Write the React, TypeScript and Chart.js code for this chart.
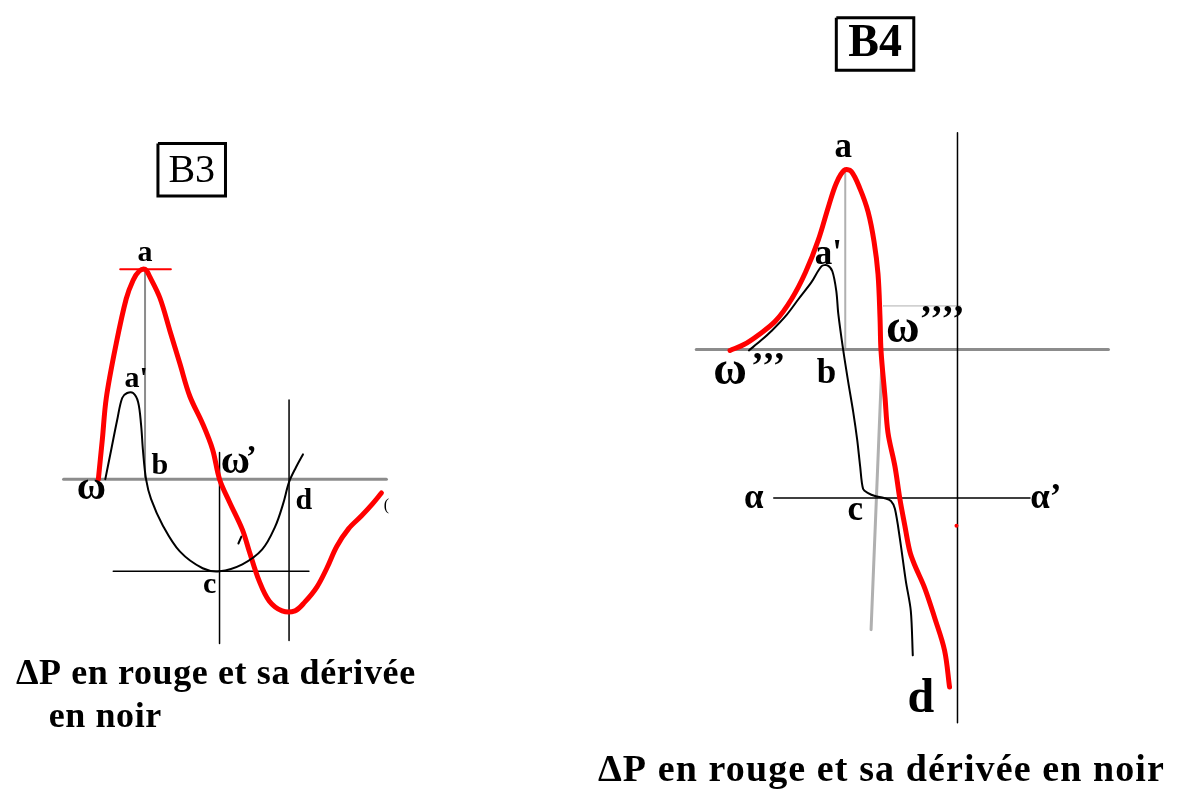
import React, { useEffect, useRef } from "react";
import { Chart, registerables } from "chart.js";

Chart.register(...registerables);

type P = [number, number];

// ---------- B3 panel ----------
const b3RedCurve: P[] = [
  [95, 480], [99, 440], [103, 398], [113, 343], [123, 298], [130, 279], [136, 270], [142, 268],
  [147, 276], [157, 297], [167, 330], [177, 363], [187, 396], [200, 424], [210, 450], [217, 480],
  [227, 503], [240, 531], [247, 553], [257, 583], [267, 603], [280, 613], [293, 613], [303, 604],
  [315, 589], [325, 570], [335, 548], [347, 530], [360, 517], [371, 505], [380, 494],
];
const b3BlackCurve: P[] = [
  [102, 480], [108, 450], [114, 420], [119, 398], [124, 393], [130, 393], [135, 402], [138, 425],
  [140, 452], [143, 480], [148, 500], [160, 527], [177, 553], [200, 570], [217, 573], [240, 566],
  [260, 551], [273, 528], [281, 505], [287, 483], [294, 468], [301, 455],
];
const b3Axis: P[] = [[60, 480], [385, 480]];
const b3PeakGuide: P[] = [[142, 270], [142, 480]];
const b3PeakCap: P[] = [[117, 268], [168, 268]];
const b3OmegaVertical: P[] = [[217, 453], [217, 646]];
const b3DVertical: P[] = [[287, 400], [287, 643]];
const b3CHorizontal: P[] = [[110, 573], [307, 573]];
const b3Tick: P[] = [[236, 545], [239, 538]];
const b3Box: P[] = [[155, 141], [223, 141], [223, 194], [155, 194], [155, 141]];

// ---------- B4 panel ----------
const b4RedCurve: P[] = [
  [731, 350], [745, 344], [760, 334], [777, 320], [793, 298], [807, 271], [820, 238], [830, 205],
  [838, 181], [846, 168], [853, 169], [862, 187], [870, 210], [876, 240], [880, 273], [882, 317],
  [883, 350], [887, 397], [890, 433], [897, 467], [902, 500], [907, 527], [912, 553], [917, 567],
  [927, 590], [937, 620], [947, 653], [952, 690],
];
const b4BlackCurve: P[] = [
  [750, 350], [762, 340], [773, 330], [788, 314], [800, 298], [813, 281], [823, 265], [829, 264],
  [834, 270], [838, 290], [840, 313], [845, 350], [850, 382], [855, 412], [859, 440], [862, 467],
  [865, 490], [870, 494], [877, 497], [886, 499], [893, 502], [897, 510], [902, 540], [908, 583],
  [913, 613], [915, 658],
];
const b4Axis: P[] = [[697, 349], [1112, 349]];
const b4PeakGuide: P[] = [[847, 170], [847, 349]];
const b4TiltedGuide: P[] = [[884, 360], [873, 632]];
const b4ThinGuide: P[] = [[885, 305], [963, 305]];
const b4Vertical: P[] = [[960, 130], [960, 726]];
const b4AlphaLine: P[] = [[775, 499], [1033, 499]];
const b4RedDot: P[] = [[959, 527]];
const b4Box: P[] = [[838, 14], [916, 14], [916, 67], [838, 67], [838, 14]];

// ---------- Text ----------
type L = { t: string; x: number; y: number; k: string };
const b3Labels: L[] = [
  { t: "B3", x: 189, y: 169, k: "box3" },
  { t: "a", x: 142, y: 252, k: "s3" },
  { t: "a'", x: 133, y: 379, k: "s3" },
  { t: "b", x: 157, y: 467, k: "s3" },
  { t: "ω", x: 233, y: 474, k: "w3" },
  { t: "’", x: 249, y: 468, k: "q3" },
  { t: "ω", x: 88, y: 500, k: "w3" },
  { t: "d", x: 302, y: 502, k: "s3" },
  { t: "c", x: 207, y: 587, k: "s3" },
  { t: "(", x: 385, y: 507, k: "tiny" },
];
const b3Caption: L[] = [
  { t: "ΔP en rouge et sa dérivée", x: 12, y: 687, k: "cap3" },
  { t: "en noir", x: 45, y: 730, k: "cap3" },
];
const b4Labels: L[] = [
  { t: "B4", x: 877, y: 41, k: "box4" },
  { t: "a", x: 845, y: 145, k: "s4" },
  { t: "a'", x: 830, y: 254, k: "s4" },
  { t: "ω", x: 905, y: 341, k: "w4" },
  { t: "’’’’", x: 945, y: 330, k: "q4" },
  { t: "ω", x: 731, y: 384, k: "w4" },
  { t: "’’’", x: 770, y: 378, k: "q4" },
  { t: "b", x: 828, y: 374, k: "s4" },
  { t: "α", x: 755, y: 500, k: "s4" },
  { t: "α’", x: 1049, y: 500, k: "s4" },
  { t: "c", x: 857, y: 512, k: "s4" },
  { t: "d", x: 923, y: 703, k: "big4" },
];
const b4Caption: L[] = [{ t: "ΔP en rouge et sa dérivée en noir", x: 598, y: 785, k: "cap4" }];

const SERIF = '"Liberation Serif", "Times New Roman", serif';
type S = { font: string; align: CanvasTextAlign; base: CanvasTextBaseline; spacing?: string };
const textStyles: Record<string, S> = {
  box3: { font: `40px ${SERIF}`, align: "center", base: "middle" },
  box4: { font: `bold 46px ${SERIF}`, align: "center", base: "middle" },
  s3: { font: `bold 30px ${SERIF}`, align: "center", base: "middle" },
  s4: { font: `bold 35px ${SERIF}`, align: "center", base: "middle" },
  w3: { font: `bold 40px ${SERIF}`, align: "center", base: "alphabetic" },
  w4: { font: `bold 46px ${SERIF}`, align: "center", base: "alphabetic" },
  q3: { font: `bold 32px ${SERIF}`, align: "center", base: "alphabetic" },
  q4: { font: `bold 38px ${SERIF}`, align: "center", base: "alphabetic", spacing: "1px" },
  big4: { font: `bold 48px ${SERIF}`, align: "center", base: "middle" },
  tiny: { font: `16px ${SERIF}`, align: "center", base: "middle" },
  cap3: { font: `bold 36px ${SERIF}`, align: "left", base: "alphabetic", spacing: "0.6px" },
  cap4: { font: `bold 38px ${SERIF}`, align: "left", base: "alphabetic", spacing: "1.1px" },
};

const RED = "#ff0000";
const GRAY = "#8c8c8c";
const LIGHT = "#b0b0b0";

const pts = (a: P[]) => a.map(([x, y]) => ({ x, y }));

function line(data: P[], color: string, width: number, order: number, tension = 0, extra: any = {}) {
  return {
    data: pts(data),
    showLine: true,
    borderColor: color,
    backgroundColor: color,
    borderWidth: width,
    pointRadius: 0,
    tension,
    order,
    borderCapStyle: "round",
    borderJoinStyle: "round",
    ...extra,
  };
}

const textPlugin = {
  id: "textPlugin",
  afterDatasetsDraw(chart: any) {
    const { ctx, scales } = chart;
    const all = [...b3Labels, ...b3Caption, ...b4Labels, ...b4Caption];
    ctx.save();
    ctx.fillStyle = "#000";
    for (const l of all) {
      const s = textStyles[l.k];
      ctx.font = s.font;
      ctx.textAlign = s.align;
      ctx.textBaseline = s.base;
      (ctx as any).letterSpacing = s.spacing || "0px";
      ctx.fillText(l.t, scales.x.getPixelForValue(l.x), scales.y.getPixelForValue(l.y));
    }
    ctx.restore();
  },
};

export default function App() {
  const ref = useRef<HTMLCanvasElement | null>(null);
  useEffect(() => {
    if (!ref.current) return;
    const chart = new Chart(ref.current, {
      type: "scatter",
      data: {
        datasets: [
          line(b3BlackCurve, "#000", 2, 0, 0.35),
          line(b4BlackCurve, "#000", 2, 0, 0.3),
          line(b3RedCurve, RED, 5, 1, 0.35),
          line(b4RedCurve, RED, 5, 1, 0.35),
          line(b3PeakCap, RED, 2, 1),
          line(b4RedDot, RED, 0, 1, 0, { showLine: false, pointRadius: 2, pointBorderWidth: 0 }),
          line(b3OmegaVertical, "#000", 1.5, 2),
          line(b3DVertical, "#000", 1.5, 2),
          line(b3CHorizontal, "#000", 1.5, 2),
          line(b3Tick, "#000", 2, 2),
          line(b3Box, "#000", 3, 2, 0, { borderJoinStyle: "miter", borderCapStyle: "butt" }),
          line(b4Vertical, "#000", 1.5, 2),
          line(b4AlphaLine, "#000", 1.5, 2),
          line(b4Box, "#000", 3, 2, 0, { borderJoinStyle: "miter", borderCapStyle: "butt" }),
          line(b3Axis, GRAY, 3, 3),
          line(b4Axis, GRAY, 3, 3),
          line(b3PeakGuide, GRAY, 2, 3),
          line(b4PeakGuide, LIGHT, 2, 3),
          line(b4TiltedGuide, LIGHT, 3, 3),
          line(b4ThinGuide, LIGHT, 1, 3),
        ] as any,
      },
      options: {
        animation: false,
        responsive: false,
        maintainAspectRatio: false,
        layout: { padding: 0 },
        events: [],
        scales: {
          x: { type: "linear", min: 0, max: 1179, display: false },
          y: { type: "linear", min: 0, max: 793, reverse: true, display: false },
        },
        plugins: { legend: { display: false }, tooltip: { enabled: false } },
      },
      plugins: [textPlugin],
    });
    return () => chart.destroy();
  }, []);
  return (
    <div style={{ position: "absolute", left: 0, top: 0, width: 1179, height: 793, background: "#fff" }}>
      <canvas ref={ref} width={1179} height={793} style={{ display: "block" }} />
    </div>
  );
}
